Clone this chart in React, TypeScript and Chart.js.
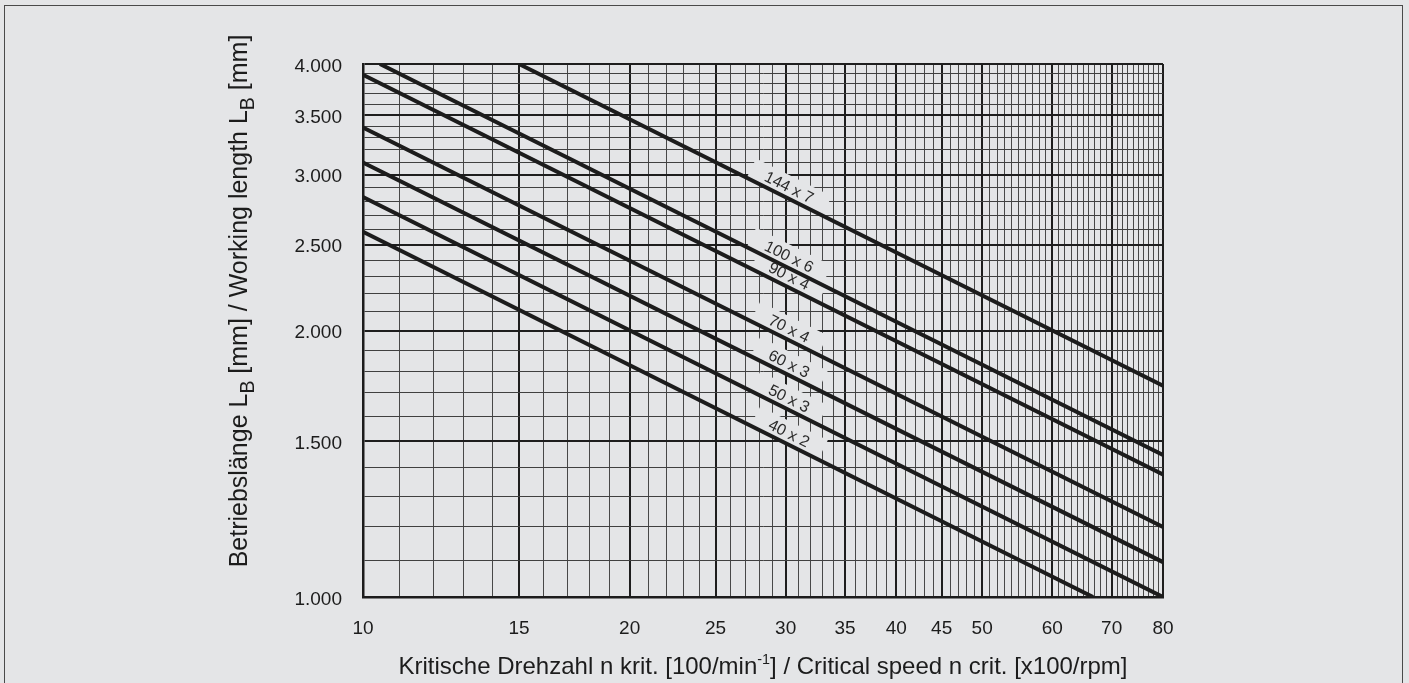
import React, { useEffect, useRef } from 'react';
import { Chart, registerables } from 'chart.js';

Chart.register(...registerables);

// ---- data ----
const seriesNames = ['144 x 7', '100 x 6', '90 x 4', '70 x 4', '60 x 3', '50 x 3', '40 x 2'];
const speedStart = [15, 10.45, 10, 10, 10, 10, 10];
const lengthStart = [4000, 4000, 3890, 3390, 3095, 2830, 2585];
const speedEnd = [80, 80, 80, 80, 80, 80, 66.7];
const lengthEnd = [1732, 1447, 1375, 1200, 1095, 1000, 1000];
const labelSpeed = 29.9;

const xTickValues = [10, 15, 20, 25, 30, 35, 40, 45, 50, 60, 70, 80];
const xTickLabels = ['10', '15', '20', '25', '30', '35', '40', '45', '50', '60', '70', '80'];
const yTickValues = [1000, 1500, 2000, 2500, 3000, 3500, 4000];
const yTickLabels = ['1.000', '1.500', '2.000', '2.500', '3.000', '3.500', '4.000'];

const xGridStep = 1;
const yGridStep = 100;

const xTitle = [
  { text: 'Kritische Drehzahl n krit. [100/min', kind: 'n' },
  { text: '-1', kind: 'sup' },
  { text: '] / Critical speed n crit. [x100/rpm]', kind: 'n' },
];
const yTitle = [
  { text: 'Betriebslänge L', kind: 'n' },
  { text: 'B', kind: 'sub' },
  { text: ' [mm] / Working length L', kind: 'n' },
  { text: 'B', kind: 'sub' },
  { text: ' [mm]', kind: 'n' },
];

const BG = '#e4e5e7';
const INK = '#1c1c1c';
const FONT = '"Liberation Sans", Arial, Helvetica, sans-serif';

function gridValues(min: number, max: number, step: number) {
  const out: number[] = [];
  for (let v = min; v <= max + 1e-9; v += step) out.push(Math.round(v * 100) / 100);
  return out;
}

function drawRich(ctx: CanvasRenderingContext2D, segs: { text: string; kind: string }[], cx: number, cy: number, rot: number, size: number) {
  const fontFor = (k: string) => `${k === 'n' ? size : k === 'sub' ? size * 0.78 : size * 0.6}px ${FONT}`;
  const dyFor = (k: string) => (k === 'sub' ? size * 0.28 : k === 'sup' ? -size * 0.4 : 0);
  ctx.save();
  ctx.translate(cx, cy);
  ctx.rotate(rot);
  ctx.fillStyle = INK;
  ctx.textBaseline = 'alphabetic';
  ctx.textAlign = 'left';
  let total = 0;
  segs.forEach((s) => {
    ctx.font = fontFor(s.kind);
    total += ctx.measureText(s.text).width;
  });
  let pos = -total / 2;
  segs.forEach((s) => {
    ctx.font = fontFor(s.kind);
    ctx.fillText(s.text, pos, dyFor(s.kind));
    pos += ctx.measureText(s.text).width;
  });
  ctx.restore();
}

function drawLineLabels(chart: any, halo: boolean) {
  const { ctx } = chart;
  const xs = chart.scales.x;
  const ys = chart.scales.y;
  ctx.save();
  ctx.font = `16px ${FONT}`;
  seriesNames.forEach((name, i) => {
    const x0 = xs.getPixelForValue(speedStart[i]);
    const y0 = ys.getPixelForValue(lengthStart[i]);
    const x1 = xs.getPixelForValue(speedEnd[i]);
    const y1 = ys.getPixelForValue(lengthEnd[i]);
    const ang = Math.atan2(y1 - y0, x1 - x0);
    const lx = xs.getPixelForValue(labelSpeed);
    const t = (lx - x0) / (x1 - x0);
    const ly = y0 + t * (y1 - y0);
    const d = 9.5;
    const cx = lx + Math.sin(ang) * d;
    const cy = ly - Math.cos(ang) * d;
    const w = ctx.measureText(name).width;
    ctx.save();
    ctx.translate(cx, cy);
    ctx.rotate(ang);
    if (halo) {
      ctx.fillStyle = BG;
      ctx.fillRect(-w / 2 - 16, -12, w + 32, 22);
    } else {
      ctx.fillStyle = '#2a2a2a';
      ctx.textAlign = 'center';
      ctx.textBaseline = 'middle';
      ctx.fillText(name, 0, 0);
    }
    ctx.restore();
  });
  ctx.restore();
}

const labelPlugin = {
  id: 'lineLabels',
  beforeDatasetsDraw(chart: any) {
    drawLineLabels(chart, true);
  },
  afterDatasetsDraw(chart: any) {
    drawLineLabels(chart, false);
  },
};

const titlePlugin = {
  id: 'richTitles',
  afterDraw(chart: any) {
    const { ctx, chartArea } = chart;
    drawRich(ctx, xTitle, (chartArea.left + chartArea.right) / 2, 674, 0, 24);
    drawRich(ctx, yTitle, 247, 301, -Math.PI / 2, 25);
  },
};

export default function App() {
  const ref = useRef<HTMLCanvasElement | null>(null);

  useEffect(() => {
    if (!ref.current) return;
    const xGrid = gridValues(10, 80, xGridStep);
    const yGrid = gridValues(1000, 4000, yGridStep);

    const datasets = seriesNames.map((name, i) => ({
      label: name,
      data: [
        { x: speedStart[i], y: lengthStart[i] },
        { x: speedEnd[i], y: lengthEnd[i] },
      ],
      borderColor: INK,
      borderWidth: 4,
      pointRadius: 0,
      borderCapStyle: 'butt' as const,
      clip: 0,
      tension: 0,
    }));

    const isMajorX = (v: number) => xTickValues.includes(v);
    const isMajorY = (v: number) => yTickValues.includes(v);

    const chart = new Chart(ref.current, {
      type: 'line',
      data: { datasets },
      plugins: [labelPlugin, titlePlugin],
      options: {
        animation: false,
        responsive: false,
        devicePixelRatio: 1,
        layout: { padding: { left: 0, top: 64, right: 246, bottom: 0 } },
        plugins: { legend: { display: false }, tooltip: { enabled: false }, title: { display: false } },
        scales: {
          x: {
            type: 'logarithmic',
            min: 10,
            max: 80,
            afterBuildTicks: (s: any) => {
              s.ticks = xGrid.map((v) => ({ value: v }));
            },
            afterFit: (s: any) => {
              s.height = 86;
            },
            ticks: {
              autoSkip: false,
              maxRotation: 0,
              minRotation: 0,
              padding: 20,
              color: INK,
              font: { family: FONT, size: 19 },
              callback: (v: any) => {
                const idx = xTickValues.indexOf(Number(v));
                return idx >= 0 ? xTickLabels[idx] : '';
              },
            },
            grid: {
              drawTicks: false,
              color: (c: any) => (c.tick && isMajorX(c.tick.value) ? '#1e1e1e' : '#484848'),
              lineWidth: (c: any) => (c.tick && isMajorX(c.tick.value) ? 2 : 1),
            },
            border: { display: true, color: INK, width: 2.5 },
          },
          y: {
            type: 'logarithmic',
            min: 1000,
            max: 4000,
            afterBuildTicks: (s: any) => {
              s.ticks = yGrid.map((v) => ({ value: v }));
            },
            afterFit: (s: any) => {
              s.width = 363;
            },
            ticks: {
              autoSkip: false,
              padding: 21,
              labelOffset: 2.5,
              color: INK,
              font: { family: FONT, size: 19 },
              callback: (v: any) => {
                const idx = yTickValues.indexOf(Number(v));
                return idx >= 0 ? yTickLabels[idx] : '';
              },
            },
            grid: {
              drawTicks: false,
              color: (c: any) => (c.tick && isMajorY(c.tick.value) ? '#1e1e1e' : '#404040'),
              lineWidth: (c: any) => (c.tick && isMajorY(c.tick.value) ? 2 : 1),
            },
            border: { display: true, color: INK, width: 2.5 },
          },
        },
      } as any,
    });
    return () => chart.destroy();
  }, []);

  return (
    <div style={{ position: 'fixed', left: 0, top: 0, width: 1409, height: 683, background: BG, overflow: 'hidden' }}>
      <div
        style={{
          position: 'absolute',
          left: 4,
          top: 5,
          width: 1399,
          height: 720,
          boxSizing: 'border-box',
          border: '1.5px solid #4a4a4a',
        }}
      />
      <canvas ref={ref} width={1409} height={683} style={{ position: 'absolute', left: 0, top: 0, width: 1409, height: 683 }} />
    </div>
  );
}
